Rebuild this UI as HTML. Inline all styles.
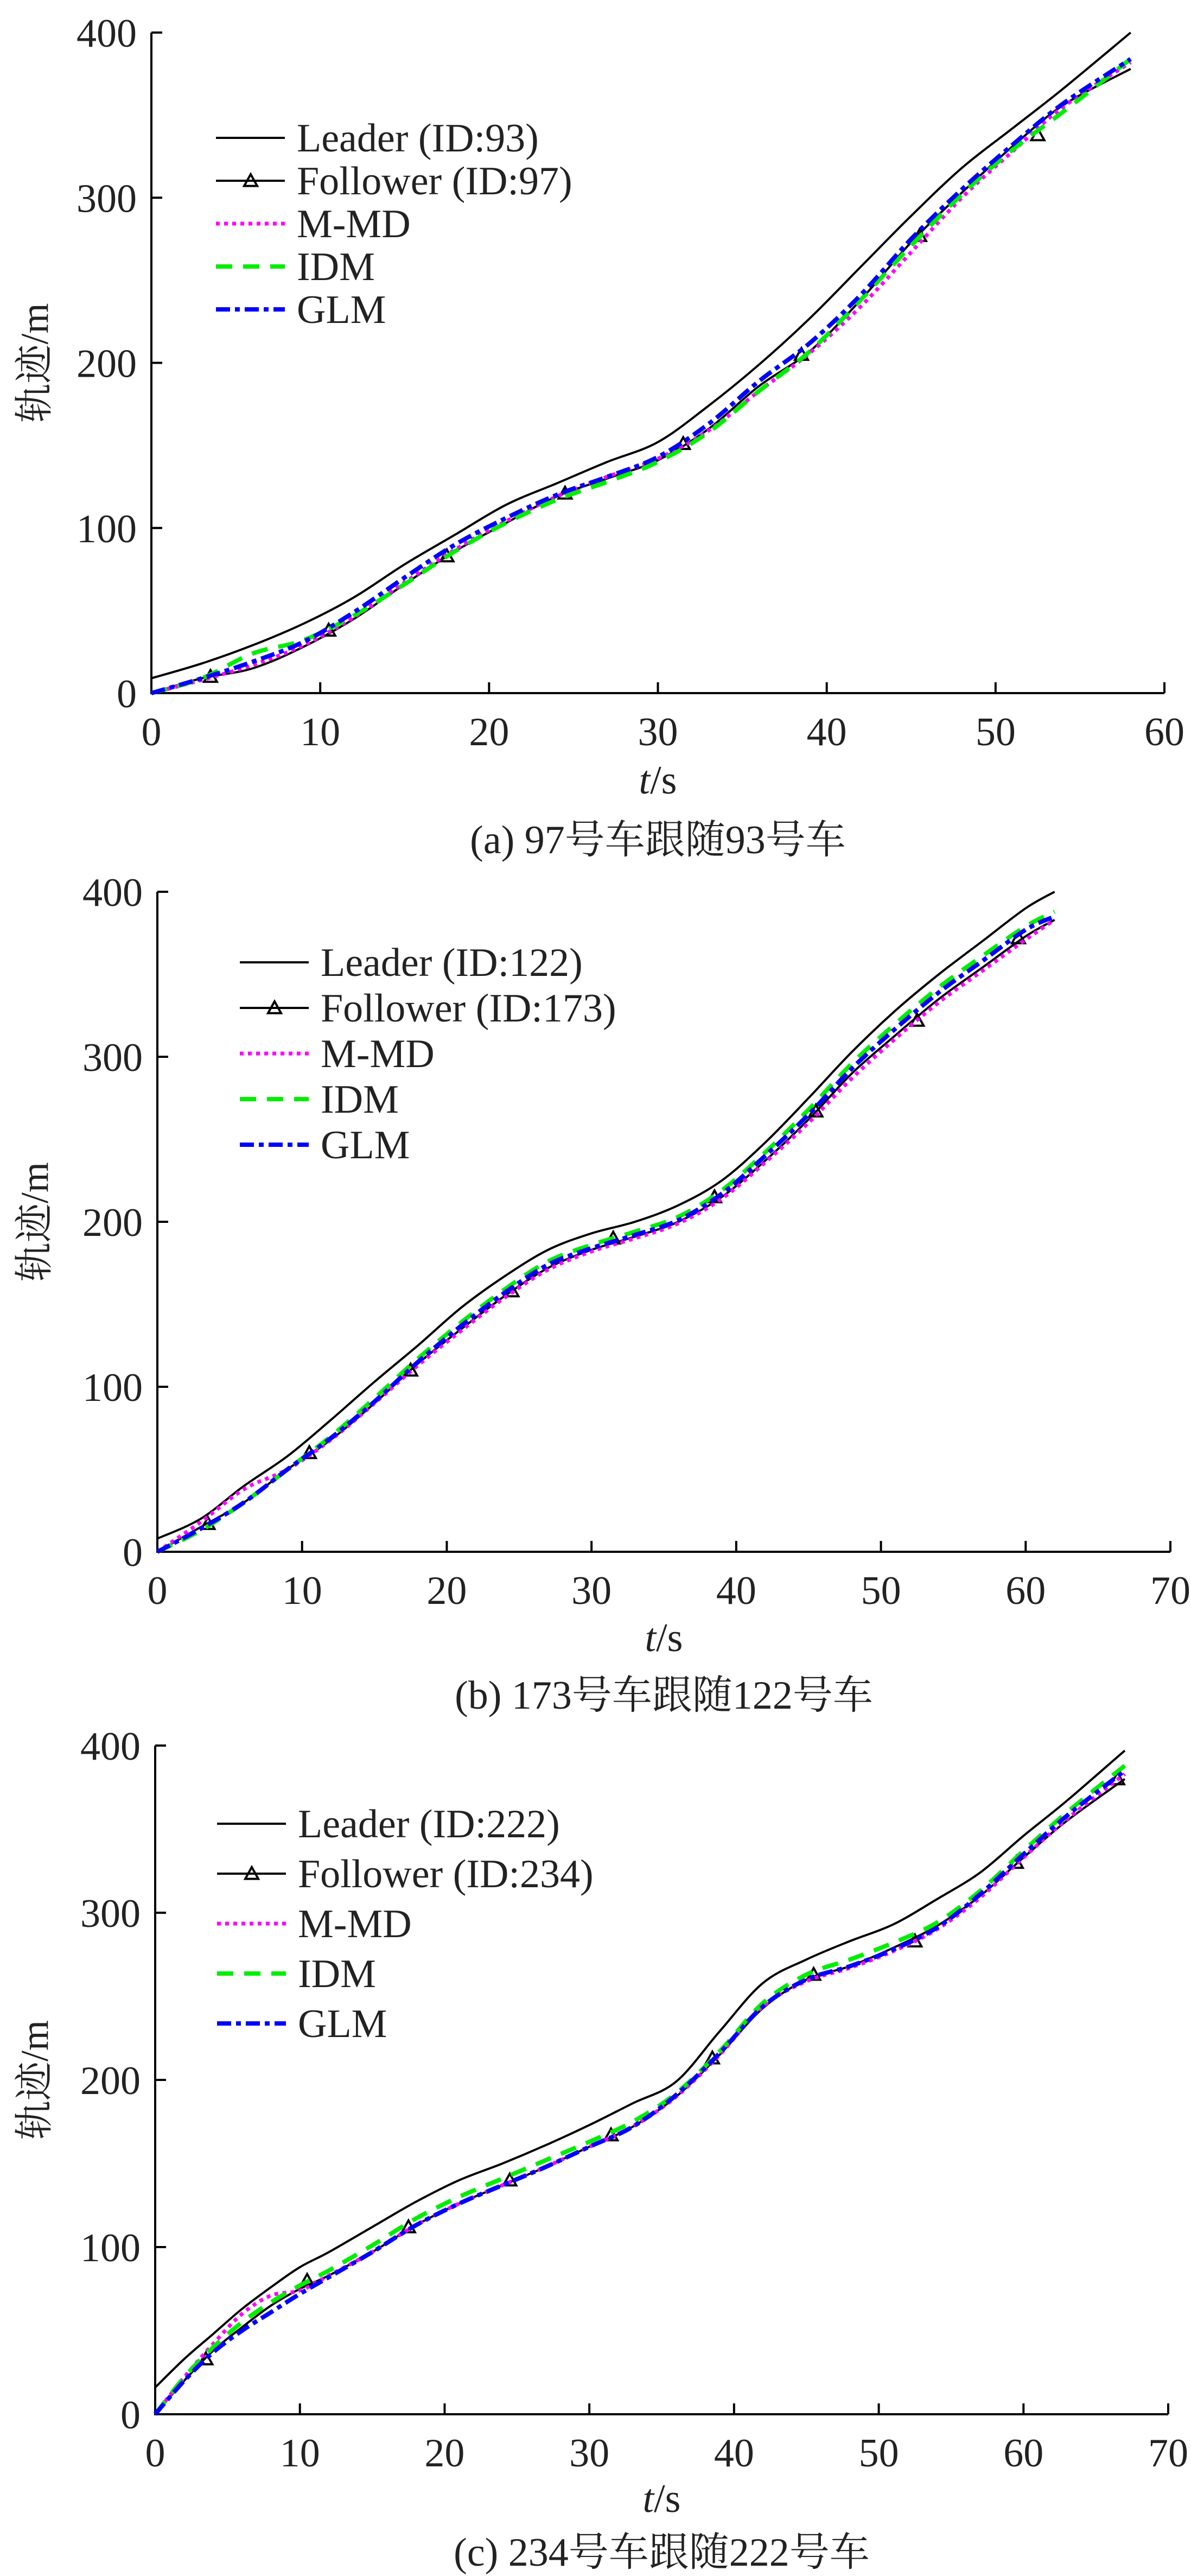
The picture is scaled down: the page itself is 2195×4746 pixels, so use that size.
<!DOCTYPE html>
<html><head><meta charset="utf-8"><style>
html,body{margin:0;padding:0;background:#fff}
svg{display:block}
text{font-family:"Liberation Serif","Noto Serif CJK SC","Noto Sans CJK SC",serif;fill:#222}
</style></head><body>
<svg id="fig" width="2195" height="4746" viewBox="0 0 2195 4746" xmlns="http://www.w3.org/2000/svg"></svg>
<script>
// ---- Chart (a) data ----
const tA = [0,3,6,9,12,15,18,21,24,27,30,33,36,39,42,45,48,51,54,58];
const leaderA = [9,18,29,42,58,78,96,114,127,140,152,174,199,227,258,289,318,342,366,400];
const followerA = [0,9,15,28,45,66,86,103,119,130,141,160,186,207,238,273,303,331,356,378];
const mmdA = [0,8,17,29,46,67,87,104,119,131,142,159,183,206,234,267,300,328,355,382];
const idmA = [0,9,24,32,47,66,86,103,117,128,140,158,183,207,238,271,302,329,352,384];
const glmA = [0,9,19,31,49,70,90,106,120,131,143,163,189,212,241,275,305,332,357,384];
const markTA = [3.5,10.5,17.5,24.5,31.5,38.5,45.5,52.5];
const markVA = [10,38,83,121,151,205,277,338];
const xTicksA = [0,10,20,30,40,50,60];
// ---- Chart (b) data ----
const tB = [0,3,6,9,12,15,18,21,24,27,30,33,36,39,42,45,48,51,54,57,60,62];
const leaderB = [8,20,40,58,80,103,125,148,167,183,193,200,210,225,248,275,303,328,350,370,390,400];
const followerB = [0,15,30,50,68,90,114,135,155,172,183,191,200,215,237,262,290,313,335,354,373,383];
const mmdB = [0,18,38,50,68,90,113,134,154,171,182,190,199,214,236,260,287,311,333,352,371,383];
const idmB = [0,13,30,50,70,93,117,139,159,176,186,194,203,219,242,268,296,320,342,361,379,388];
const glmB = [0,14,30,50,69,91,115,137,157,174,184,192,201,217,240,265,293,317,339,358,377,385];
const markTB = [3.5,10.5,17.5,24.5,31.5,38.5,45.5,52.5,59.5];
const markVB = [17,60,110,158,190,215,267,322,372];
const xTicksB = [0,10,20,30,40,50,60,70];
// ---- Chart (c) data ----
const tC = [0,2,4,6,8,10,12,15,18,21,24,27,30,33,36,39,42,45,48,51,54,57,60,63,67];
const leaderC = [16,33,48,63,76,88,97,112,127,140,150,161,173,186,199,229,258,272,283,293,308,324,346,367,397];
const followerC = [0,20,38,52,65,75,83,97,113,126,137,148,160,172,190,215,243,260,268,279,292,310,333,355,380];
const mmdC = [0,22,42,60,71,74,83,97,113,126,137,148,160,172,190,215,244,259,267,277,290,309,333,356,383];
const idmC = [0,22,40,55,67,77,86,101,117,130,141,152,163,175,192,217,246,263,272,282,294,313,337,360,388];
const glmC = [0,20,37,50,61,72,82,97,113,126,137,148,160,172,191,216,244,260,268,278,291,311,335,358,385];
const markTC = [3.5,10.5,17.5,24.5,31.5,38.5,45.5,52.5,59.5,66.5];
const markVC = [33,80,112,140,167,213,263,283,330,380];
const xTicksC = [0,10,20,30,40,50,60,70];
const yTicks = [0,100,200,300,400];
const legendA = ["Leader (ID:93)","Follower (ID:97)","M-MD","IDM","GLM"];
const legendB = ["Leader (ID:122)","Follower (ID:173)","M-MD","IDM","GLM"];
const legendC = ["Leader (ID:222)","Follower (ID:234)","M-MD","IDM","GLM"];

const NS="http://www.w3.org/2000/svg";
const svg=document.getElementById('fig');
function mk(tag,attrs,parent){const e=document.createElementNS(NS,tag);for(const k in attrs)e.setAttribute(k,attrs[k]);(parent||svg).appendChild(e);return e;}
function smooth(pts){let d='M'+pts[0][0].toFixed(1)+','+pts[0][1].toFixed(1);
 for(let i=0;i<pts.length-1;i++){const p0=pts[Math.max(0,i-1)],p1=pts[i],p2=pts[i+1],p3=pts[Math.min(pts.length-1,i+2)];
  const c1=[p1[0]+(p2[0]-p0[0])/6,p1[1]+(p2[1]-p0[1])/6],c2=[p2[0]-(p3[0]-p1[0])/6,p2[1]-(p3[1]-p1[1])/6];
  d+=' C'+c1[0].toFixed(1)+','+c1[1].toFixed(1)+' '+c2[0].toFixed(1)+','+c2[1].toFixed(1)+' '+p2[0].toFixed(1)+','+p2[1].toFixed(1);}
 return d;}
const styles=[
 {stroke:'#000',w:4,dash:''},
 {stroke:'#000',w:4,dash:''},
 {stroke:'#ff00ff',w:7,dash:'7,8'},
 {stroke:'#00ee00',w:8,dash:'30,20'},
 {stroke:'#0000ff',w:8,dash:'26,9,9,9'}];
const seriesNames=['leader-line','follower-line','mmd-line','idm-line','glm-line'];
function tri(g,x,y){const s=12;
 const p=mk('polygon',{points:`${x},${y-s} ${x-s},${y+s*0.8} ${x+s},${y+s*0.8}`,fill:'none',stroke:'#000','stroke-width':4,'stroke-linejoin':'miter'},g);
 
 }

function chart(cfg){
 const g=mk('g',{});
 
 
 const X=v=>cfg.x0+(v/cfg.xmax)*(cfg.x1-cfg.x0);
 const Y=v=>cfg.y0-(v/400)*(cfg.y0-cfg.y400);
 const ax=mk('path',{d:`M${cfg.x0},${cfg.y400} V${cfg.y0} H${cfg.x1}`,fill:'none',stroke:'#000','stroke-width':4},g);
 
 
 yTicks.forEach(v=>{
  const t=mk('line',{x1:cfg.x0,x2:cfg.x0+20,y1:Y(v),y2:Y(v),stroke:'#000','stroke-width':4},g);
  
  
  const l=mk('text',{x:cfg.x0-27,y:Y(v)+26,'text-anchor':'end','font-size':74},g);l.textContent=v;
  
  
 });
 cfg.xt.forEach(v=>{
  const t=mk('line',{x1:X(v),x2:X(v),y1:cfg.y0,y2:cfg.y0-20,stroke:'#000','stroke-width':4},g);
  
  
  const l=mk('text',{x:X(v),y:cfg.y0+96,'text-anchor':'middle','font-size':74},g);l.textContent=v;
  
  
 });
 const yt=mk('text',{x:0,y:0,'text-anchor':'middle','font-size':72,transform:`translate(88,${(cfg.y0+cfg.y400)/2}) rotate(-90)`},g);
 yt.textContent='轨迹/m';
 
 
 const xt=mk('text',{x:(cfg.x0+cfg.x1)/2,y:cfg.xtY,'text-anchor':'middle','font-size':74},g);
 xt.innerHTML='<tspan font-style="italic">t</tspan>/s';
 
 
 const cap=mk('text',{x:(cfg.x0+cfg.x1)/2,y:cfg.capY,'text-anchor':'middle','font-size':74},g);
 cap.textContent=cfg.caption;
 
 
 cfg.series.forEach((arr,i)=>{
  const pts=cfg.t.map((tv,j)=>[X(tv),Y(arr[j])]);
  const s=styles[i];
  const p=mk('path',{d:smooth(pts),fill:'none',stroke:s.stroke,'stroke-width':s.w,'stroke-dasharray':s.dash,'stroke-linejoin':'round'},g);
  
  
  if(i===1){cfg.mt.forEach((mt,j)=>tri(g,X(mt),Y(cfg.mv[j])));}
 });
 cfg.legend.forEach((lab,i)=>{
  const y=cfg.ly+i*cfg.ls, s=styles[i];
  const lg=mk('g',{},g);
  
  
  mk('line',{x1:cfg.lx,x2:cfg.lx+127,y1:y,y2:y,stroke:s.stroke,'stroke-width':s.w,'stroke-dasharray':s.dash},lg);
  if(i===1)tri(lg,cfg.lx+64,y);
  const tx=mk('text',{x:cfg.lx+149,y:y+25,'font-size':74},lg);tx.textContent=lab;
 });
}
chart({name:'chart-a',x0:279,x1:2146,y0:1277,y400:60,xmax:60,xt:xTicksA,t:tA,series:[leaderA,followerA,mmdA,idmA,glmA],mt:markTA,mv:markVA,legend:legendA,lx:398,ly:254,ls:79,xtY:1462,capY:1572,caption:'(a) 97号车跟随93号车'});
chart({name:'chart-b',x0:290,x1:2157,y0:2859,y400:1643,xmax:70,xt:xTicksB,t:tB,series:[leaderB,followerB,mmdB,idmB,glmB],mt:markTB,mv:markVB,legend:legendB,lx:442,ly:1773,ls:84,xtY:3042,capY:3148,caption:'(b) 173号车跟随122号车'});
chart({name:'chart-c',x0:286,x1:2153,y0:4448,y400:3216,xmax:70,xt:xTicksC,t:tC,series:[leaderC,followerC,mmdC,idmC,glmC],mt:markTC,mv:markVC,legend:legendC,lx:400,ly:3360,ls:92,xtY:4628,capY:4727,caption:'(c) 234号车跟随222号车'});
</script>
</body></html>
